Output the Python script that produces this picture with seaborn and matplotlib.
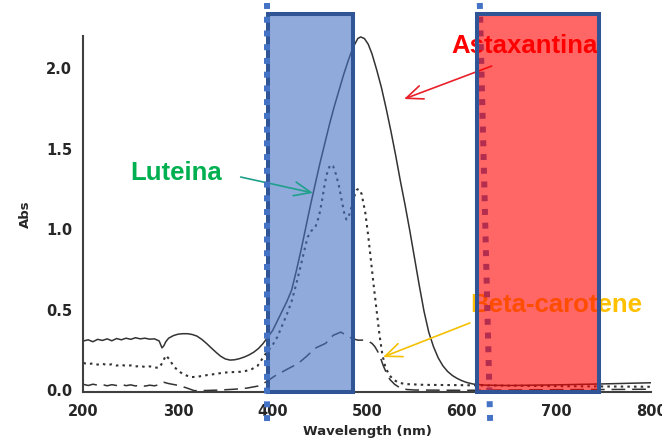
"""
Absorption spectra of astaxanthin, lutein and beta-carotene with blue / red bands.
"""
import matplotlib
matplotlib.use("Agg")
import matplotlib.pyplot as plt
from matplotlib.patches import Rectangle
import seaborn as sns

sns.set_style("white")
plt.rcParams['font.family'] = ['DejaVu Sans']

# Astaxantina (solid line)
asta_wl = [200, 205, 210, 215, 220, 225, 230, 235, 240, 245, 250, 255, 260, 265, 270, 275, 280,
           283, 285, 287, 290, 295, 300, 305, 310, 315, 320, 325, 330, 335, 340, 345, 350, 355,
           360, 365, 370, 375, 380, 385, 390, 395, 400, 405, 410, 415, 420, 425, 430, 435, 440,
           445, 450, 455, 460, 465, 470, 475, 480, 485, 490, 493, 497, 501, 505, 510, 515, 520,
           525, 530, 535, 540, 545, 550, 555, 560, 565, 570, 575, 580, 585, 590, 595, 600, 605,
           612, 625, 650, 700, 750, 800]
asta_abs = [0.305, 0.312, 0.300, 0.315, 0.308, 0.318, 0.306, 0.320, 0.312, 0.322, 0.315, 0.325,
            0.318, 0.322, 0.316, 0.318, 0.305, 0.262, 0.275, 0.300, 0.322, 0.338, 0.347, 0.350,
            0.350, 0.345, 0.335, 0.315, 0.290, 0.262, 0.235, 0.210, 0.193, 0.186, 0.188, 0.195,
            0.205, 0.218, 0.235, 0.258, 0.290, 0.330, 0.370, 0.430, 0.490, 0.550, 0.620, 0.740,
            0.870, 1.010, 1.150, 1.280, 1.410, 1.530, 1.650, 1.760, 1.860, 1.960, 2.050, 2.130,
            2.185, 2.195, 2.185, 2.150, 2.090, 1.990, 1.880, 1.750, 1.610, 1.460, 1.300, 1.150,
            0.990, 0.820, 0.650, 0.490, 0.360, 0.270, 0.200, 0.150, 0.115, 0.090, 0.072, 0.058,
            0.047, 0.037, 0.030, 0.028, 0.032, 0.038, 0.045]

# Luteina (dotted line)
lut_wl = [200, 205, 210, 215, 220, 225, 230, 235, 240, 245, 250, 255, 260, 265, 270, 275, 280,
          284, 287, 291, 295, 300, 305, 313, 320, 331, 340, 348, 360, 369, 378, 384, 392, 400,
          405, 410, 415, 420, 425, 430, 434, 437, 441, 445, 449, 452, 455, 458, 461, 464, 467,
          470, 473, 476, 478, 480, 483, 486, 489, 491, 494, 498, 501, 504, 507, 510, 513, 516,
          519, 523, 528, 534, 540, 560, 600, 650, 700, 750, 800]
lut_abs = [0.168, 0.160, 0.166, 0.158, 0.163, 0.155, 0.160, 0.152, 0.156, 0.150, 0.153, 0.146,
           0.150, 0.143, 0.147, 0.140, 0.138, 0.175, 0.215, 0.190, 0.150, 0.120, 0.100, 0.080,
           0.082, 0.093, 0.100, 0.108, 0.112, 0.114, 0.130, 0.150, 0.220, 0.280, 0.330, 0.400,
           0.470, 0.550, 0.660, 0.780, 0.880, 0.950, 0.990, 1.010, 1.080, 1.170, 1.280, 1.360,
           1.400, 1.390, 1.340, 1.270, 1.180, 1.090, 1.060, 1.070, 1.130, 1.200, 1.245, 1.250,
           1.220, 1.100, 0.960, 0.800, 0.640, 0.490, 0.340, 0.220, 0.145, 0.095, 0.062, 0.045,
           0.037, 0.032, 0.030, 0.027, 0.024, 0.022, 0.020]

# Beta-carotene (long dashes)
beta_wl = [200, 205, 210, 215, 220, 225, 230, 235, 240, 245, 250, 255, 260, 265, 270, 275, 280,
           285, 290, 299, 308, 317, 330, 345, 360, 373, 385, 393, 403, 414, 427, 436, 445, 456,
           464, 472, 478, 484, 490, 495, 502, 505, 508, 511, 514, 517, 520, 524, 529, 535, 542,
           550, 600, 650, 700, 750, 800]
beta_abs = [0.035, 0.028, 0.036, 0.030, 0.034, 0.026, 0.033, 0.028, 0.035, 0.027, 0.032, 0.025,
            0.031, 0.024, 0.030, 0.026, 0.033, 0.048, 0.040, 0.030, 0.015, -0.004, -0.003, 0.000,
            0.005, 0.012, 0.025, 0.050, 0.090, 0.125, 0.165, 0.210, 0.260, 0.290, 0.340, 0.360,
            0.340, 0.320, 0.310, 0.310, 0.300, 0.290, 0.270, 0.240, 0.200, 0.150, 0.110, 0.065,
            0.035, 0.012, 0.003, 0.000, -0.002, 0.000, 0.002, 0.003, 0.005]

x_ticks = [200, 300, 400, 500, 600, 700, 800]
y_ticks = [0.0, 0.5, 1.0, 1.5, 2.0]

# highlighted bands (wavelength ranges) and marker lines
blue_band = (395, 485)
red_band = (616.5, 744.5)
band_top = 2.34
blue_marker = (394.5, 394.5)
red_marker = (619, 630)

fig = plt.figure(figsize=(6.62, 4.41), dpi=100)
ax = fig.add_axes([0.1261, 0.1120, 0.8573, 0.8061])

curve_color = '#333333'
sns.lineplot(x=asta_wl, y=asta_abs, ax=ax, color=curve_color, lw=1.1, zorder=2)
sns.lineplot(x=lut_wl, y=lut_abs, ax=ax, color=curve_color, lw=1.5,
             linestyle=(0, (1.2, 2.0)), zorder=2)
sns.lineplot(x=beta_wl, y=beta_abs, ax=ax, color=curve_color, lw=1.1,
             linestyle=(0, (9, 4.5)), zorder=2)

ax.set_xlim(200, 800)
ax.set_ylim(-0.01, 2.2)
ax.set_xticks(x_ticks)
ax.set_yticks(y_ticks)
ax.set_yticklabels([f'{v:.1f}' for v in y_ticks])
for lbl in ax.get_xticklabels() + ax.get_yticklabels():
    lbl.set_fontweight('bold')
    lbl.set_fontsize(10.5)
ax.tick_params(axis='both', direction='out', length=5, width=1.3, color='#404040')
ax.tick_params(axis='x', pad=4)
ax.tick_params(axis='y', pad=3)

for side in ['top', 'right']:
    ax.spines[side].set_visible(False)
for side in ['left', 'bottom']:
    ax.spines[side].set_color('#404040')
    ax.spines[side].set_linewidth(1.5)

ax.set_xlabel('Wavelength (nm)', fontsize=9.5, fontweight='bold')
ax.set_ylabel('Abs', fontsize=9.5, fontweight='bold')
ax.xaxis.set_label_coords(0.5, -0.093)
ax.yaxis.set_label_coords(-0.09, 0.5)

# blue band over the curves
ax.add_patch(Rectangle((blue_band[0], -0.01), blue_band[1] - blue_band[0], band_top + 0.01,
                       facecolor=(0.267, 0.447, 0.769, 0.6), edgecolor='#2f5597',
                       lw=2.9, zorder=3, clip_on=False))
ax.plot(blue_marker, [2.406, -0.218], color='#4472c4', lw=4.3,
        linestyle=(0, (1.0, 1.3)), solid_capstyle='butt', zorder=6, clip_on=False)

# labels and arrows
label_font = dict(family='Liberation Sans', fontweight='bold', fontsize=18.5)
ax.text(298.3, 1.349, 'Luteina', color='#00b050', ha='center', va='center',
        zorder=4, clip_on=False, **label_font)
ax.text(665.8, 2.139, 'Astaxantina', color='#ff0000', ha='center', va='center',
        zorder=4, clip_on=False, **label_font)
ax.text(700.1, 0.528, 'Beta-carotene', color='#ffc000', ha='center', va='center',
        zorder=4, clip_on=False, **label_font)

arrow_style = '->,head_length=0.6,head_width=0.25'
ax.annotate('', xy=(442.7, 1.225), xytext=(366.2, 1.324), zorder=4,
            arrowprops=dict(arrowstyle=arrow_style, color='#1fa08a', lw=1.2,
                            mutation_scale=20, shrinkA=0, shrinkB=0))
ax.annotate('', xy=(538.9, 1.809), xytext=(631.6, 2.014), zorder=4,
            arrowprops=dict(arrowstyle=arrow_style, color='#e8202a', lw=1.2,
                            mutation_scale=20, shrinkA=0, shrinkB=0))
ax.annotate('', xy=(516.7, 0.205), xytext=(608.6, 0.417), zorder=4,
            arrowprops=dict(arrowstyle=arrow_style, color='#f5c000', lw=1.2,
                            mutation_scale=20, shrinkA=0, shrinkB=0))

# red band (semi transparent, over the text and the marker line)
ax.plot(red_marker, [2.406, -0.218], color='#4472c4', lw=4.3,
        linestyle=(0, (1.0, 1.3)), solid_capstyle='butt', zorder=4.5, clip_on=False)
ax.add_patch(Rectangle((red_band[0], -0.01), red_band[1] - red_band[0], band_top + 0.01,
                       facecolor=(1.0, 0.0, 0.0, 0.6), edgecolor='#2f5597',
                       lw=2.9, zorder=5, clip_on=False))

fig.savefig('out.png', dpi=100)
plt.close(fig)
